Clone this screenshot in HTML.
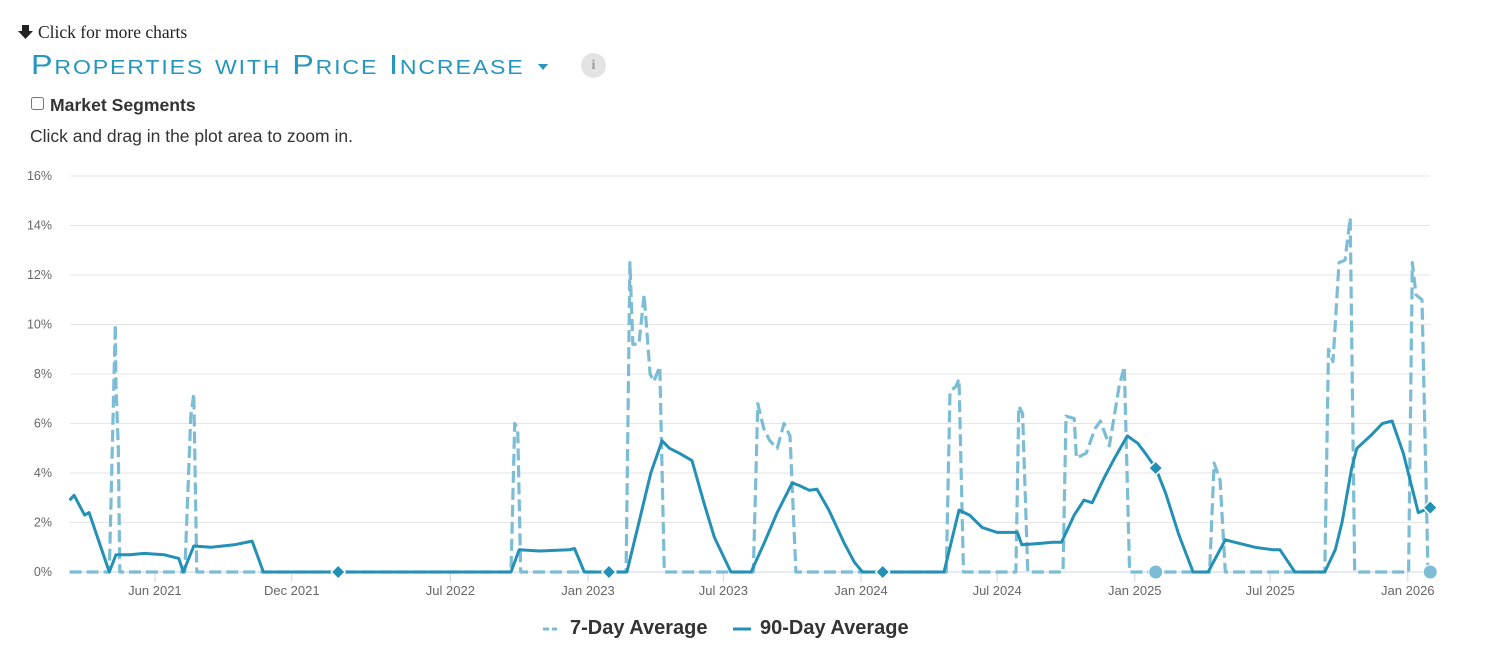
<!DOCTYPE html>
<html><head><meta charset="utf-8">
<style>
body{margin:0;background:#fff;width:1494px;height:671px;overflow:hidden;font-family:"Liberation Sans",sans-serif;position:relative}
.more{position:absolute;left:38px;top:22px;font-family:"Liberation Serif",serif;font-size:17.5px;color:#222}
.title{position:absolute;left:31px;top:49px;font-size:28px;color:#2596be;font-variant:small-caps;letter-spacing:1.6px;white-space:nowrap;transform:scaleX(1.155);transform-origin:left}
.info{position:absolute;left:581px;top:53px;width:25px;height:25px;border-radius:50%;background:#e3e3e3;color:#999;font-family:"Liberation Serif",serif;font-weight:bold;font-size:14px;text-align:center;line-height:25px}
.seg{position:absolute;left:30px;top:95px;font-size:17.6px;font-weight:bold;color:#333}
.seg input{margin:0 6px 0 1px;width:13px;height:13px;vertical-align:1px}
.hint{position:absolute;left:30px;top:126px;font-size:17.5px;color:#333}
svg{position:absolute;left:0;top:0}
</style></head><body>
<div class="more">Click for more charts</div>
<div class="title">Properties with Price Increase</div>
<div class="info">i</div>
<div class="seg"><input type="checkbox">Market Segments</div>
<div class="hint">Click and drag in the plot area to zoom in.</div>
<svg id="chart" width="1494" height="671"></svg>
<script>
const yTicks=[0,2,4,6,8,10,12,14,16];
const xTickDates=["2021-06-01","2021-12-01","2022-07-01","2023-01-01","2023-07-01","2024-01-01","2024-07-01","2025-01-01","2025-07-01","2026-01-01"];
const xTickLabels=["Jun 2021","Dec 2021","Jul 2022","Jan 2023","Jul 2023","Jan 2024","Jul 2024","Jan 2025","Jul 2025","Jan 2026"];
const d90=["2021-02-07","2021-02-13","2021-02-27","2021-03-05","2021-04-01","2021-04-10","2021-04-28","2021-05-18","2021-06-13","2021-07-03","2021-07-09","2021-07-23","2021-08-15","2021-09-15","2021-10-09","2021-10-24","2022-09-20","2022-10-01","2022-10-28","2022-12-07","2022-12-14","2022-12-27","2023-02-22","2023-03-10","2023-03-26","2023-04-10","2023-04-20","2023-05-03","2023-05-20","2023-06-05","2023-06-19","2023-07-11","2023-08-07","2023-08-25","2023-09-11","2023-10-01","2023-10-10","2023-10-24","2023-11-03","2023-11-19","2023-12-09","2023-12-23","2024-01-03","2024-04-21","2024-05-11","2024-05-25","2024-06-11","2024-07-01","2024-07-28","2024-08-03","2024-08-26","2024-09-13","2024-09-25","2024-10-12","2024-10-25","2024-11-05","2024-11-21","2024-12-05","2024-12-22","2025-01-05","2025-01-15","2025-01-29","2025-02-11","2025-03-01","2025-03-20","2025-04-09","2025-05-02","2025-05-15","2025-06-11","2025-07-04","2025-07-14","2025-08-03","2025-09-12","2025-09-26","2025-10-05","2025-10-18","2025-10-25","2025-11-12","2025-11-28","2025-12-11","2025-12-26","2026-01-05","2026-01-15","2026-01-31"];
const v90=[2.9,3.1,2.3,2.4,0,0.7,0.7,0.75,0.7,0.55,0,1.05,1.0,1.1,1.25,0,0,0.9,0.85,0.9,0.95,0,0,2,4,5.3,5.0,4.8,4.5,2.8,1.4,0,0,1.2,2.4,3.6,3.5,3.3,3.35,2.5,1.2,0.4,0,0,2.5,2.3,1.8,1.6,1.6,1.1,1.15,1.2,1.2,2.3,2.9,2.8,3.8,4.6,5.5,5.2,4.8,4.2,3.2,1.5,0,0,1.3,1.2,1.0,0.9,0.9,0,0,0.9,2.0,4.2,5.0,5.5,6.0,6.1,4.8,3.6,2.4,2.6];
const d7=["2021-02-07","2021-04-01","2021-04-09","2021-04-10","2021-04-13","2021-04-15","2021-07-11","2021-07-19","2021-07-23","2021-07-27","2022-09-20","2022-09-25","2022-09-29","2022-10-03","2023-02-21","2023-02-26","2023-03-02","2023-03-10","2023-03-17","2023-03-25","2023-03-30","2023-04-07","2023-04-13","2023-08-10","2023-08-16","2023-08-24","2023-09-01","2023-09-11","2023-09-20","2023-09-28","2023-10-06","2024-04-24","2024-04-29","2024-05-07","2024-05-11","2024-05-17","2024-07-26","2024-07-30","2024-08-04","2024-08-11","2024-09-27","2024-10-01","2024-10-12","2024-10-15","2024-10-28","2024-11-09","2024-11-16","2024-11-28","2024-12-11","2024-12-18","2024-12-25","2025-04-11","2025-04-17","2025-04-25","2025-05-02","2025-09-12","2025-09-17","2025-09-23","2025-10-01","2025-10-09","2025-10-16","2025-10-22","2026-01-02","2026-01-07","2026-01-12","2026-01-20","2026-01-28","2026-01-31"];
const v7=[0,0,10,7.5,5,0,0,6.3,7.2,0,0,6.0,5.8,0,0,12.5,9.2,9.2,11.2,8,7.7,8.3,0,0,6.8,5.8,5.3,5.0,6.0,5.5,0,0,7.3,7.5,7.8,0,0,6.7,6.4,0,0,6.3,6.2,4.6,4.8,5.8,6.1,5.1,7.5,8.3,0,0,4.4,3.7,0,0,9.0,8.5,12.5,12.6,14.3,0,0,12.5,11.2,11,0,0];
const diamondDates=["2022-02-01","2023-01-29","2024-01-30","2025-01-29","2026-01-31"];
const diamondVals=[0,0,0,4.2,2.6];
const circleDates=["2025-01-29","2026-01-31"];
const circleVals=[0,0];

const svg=document.getElementById('chart');const NS="http://www.w3.org/2000/svg";
const X0=Date.parse("2023-01-01"),PX0=588,PXD=0.748;
function xs(d){return PX0+(Date.parse(d)-X0)/86400000*PXD;}
function ys(v){return 572-v*24.75;}
function mk(t,a){const e=document.createElementNS(NS,t);for(const k in a)e.setAttribute(k,a[k]);svg.appendChild(e);return e;}
const arrow=mk('path',{d:'M22 25 L29 25 L29 31 L33 31 L25.5 39 L18 31 L22 31 Z',fill:'#222'});


const caret=mk('path',{d:'M538 64 L548 64 L543 70 Z',fill:'#2596be'});


yTicks.forEach(t=>{
 const l=mk('line',{x1:70,x2:1430,y1:ys(t),y2:ys(t),stroke:t===0?'#ccd6eb':'#e6e6e6','stroke-width':1});
 
 
 const tx=mk('text',{x:52,y:ys(t)+4,'text-anchor':'end','font-size':12.5,fill:'#666','font-family':'Liberation Sans, sans-serif'});
 tx.textContent=t+'%';
 
 
});
xTickDates.forEach((d,i)=>{
 const x=xs(d);
 const l=mk('line',{x1:x,x2:x,y1:572,y2:582,stroke:'#ccd6eb'});
 
 
 const tx=mk('text',{x:x,y:595,'text-anchor':'middle','font-size':13,fill:'#666','font-family':'Liberation Sans, sans-serif'});
 tx.textContent=xTickLabels[i];
 
 
});
function path(ds,vs){return ds.map((d,i)=>(i?'L':'M')+xs(d).toFixed(1)+' '+ys(vs[i]).toFixed(1)).join(' ');}
const p7=mk('path',{d:path(d7,v7),fill:'none',stroke:'#7cbdd5','stroke-width':3.2,'stroke-dasharray':'12 5','stroke-linejoin':'round'});


const p90=mk('path',{d:path(d90,v90),fill:'none',stroke:'#2490b6','stroke-width':3,'stroke-linejoin':'round'});


diamondDates.forEach((d,i)=>{
 const x=xs(d),y=ys(diamondVals[i]);
 const m=mk('path',{d:`M${x} ${y-7} L${x+7} ${y} L${x} ${y+7} L${x-7} ${y} Z`,fill:'#2490b6',stroke:'#fff','stroke-width':1.5});
 
 
});
circleDates.forEach((d,i)=>{
 const m=mk('circle',{cx:xs(d),cy:ys(circleVals[i]),r:7,fill:'#7cbdd5',stroke:'#fff','stroke-width':1});
 
 
});
const g1=mk('line',{x1:543,x2:557,y1:629,y2:629,stroke:'#7cbdd5','stroke-width':3,'stroke-dasharray':'6 3'});


const t1=mk('text',{x:570,y:634,'font-size':20,'font-weight':'bold',fill:'#333','font-family':'Liberation Sans, sans-serif'});
t1.textContent='7-Day Average';


const g2=mk('line',{x1:733,x2:751,y1:629,y2:629,stroke:'#2490b6','stroke-width':3});


const t2=mk('text',{x:760,y:634,'font-size':20,'font-weight':'bold',fill:'#333','font-family':'Liberation Sans, sans-serif'});
t2.textContent='90-Day Average';


</script>
</body></html>
